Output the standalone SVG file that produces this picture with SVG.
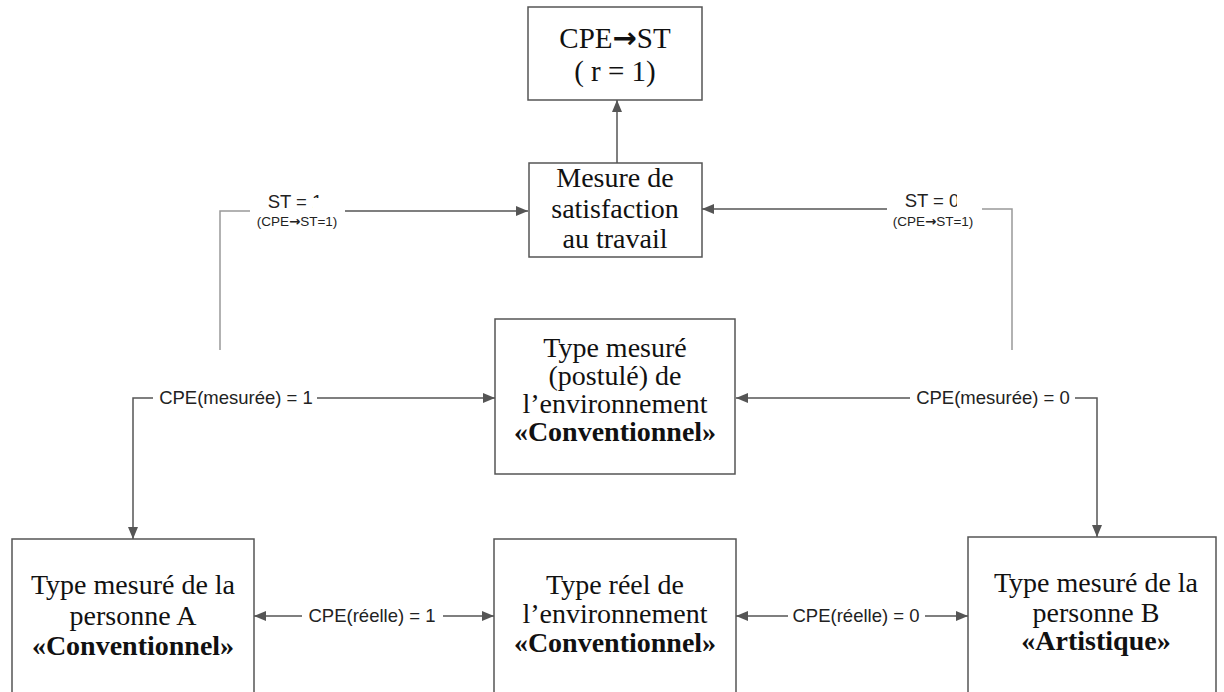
<svg xmlns="http://www.w3.org/2000/svg" width="1224" height="692" viewBox="0 0 1224 692">
<style>
.box{fill:#fff;stroke:#555;stroke-width:1.5}
.bt{font-family:"Liberation Serif","Times New Roman",serif;font-size:28px;fill:#111;text-anchor:middle}
.b{font-weight:bold}
.ar{font-family:"DejaVu Sans",sans-serif;font-weight:bold}
.ln{fill:none;stroke:#555;stroke-width:1.5}
.lf{fill:none;stroke:#999;stroke-width:1.5}
.lb{font-family:"Liberation Sans",Arial,sans-serif;font-size:18.5px;fill:#222;text-anchor:middle}
.sm{font-family:"Liberation Sans",Arial,sans-serif;font-size:13.5px;fill:#222;text-anchor:middle}
</style>
<defs>
<marker id="ah" viewBox="0 0 12 10" markerWidth="12" markerHeight="10" refX="12" refY="5" orient="auto-start-reverse" markerUnits="userSpaceOnUse">
<path d="M0,0 L12,5 L0,10 z" fill="#555"/>
</marker>
<clipPath id="c1"><rect x="240" y="180" width="73" height="40"/><rect x="313" y="180" width="20" height="18"/></clipPath>
<clipPath id="c0"><rect x="880" y="180" width="77" height="40"/></clipPath>
</defs>
<rect width="1224" height="692" fill="#fff"/>

<g id="connectors">
<path class="ln" d="M617,163 V100" marker-end="url(#ah)"/>
<path class="lf" d="M220,350 V211 H250"/>
<path class="ln" d="M345,211 H528" marker-end="url(#ah)"/>
<path class="lf" d="M1012,350 V209 H982"/>
<path class="ln" d="M887,209 H702" marker-end="url(#ah)"/>
<path class="ln" d="M153,398 H133 V539" marker-end="url(#ah)"/>
<path class="ln" d="M317,398 H495" marker-end="url(#ah)"/>
<path class="ln" d="M910,398 H736" marker-end="url(#ah)"/>
<path class="ln" d="M1075,398 H1097 V537" marker-end="url(#ah)"/>
<path class="ln" d="M302,616 H254" marker-end="url(#ah)"/>
<path class="ln" d="M443,616 H494" marker-end="url(#ah)"/>
<path class="ln" d="M788,616 H736" marker-end="url(#ah)"/>
<path class="ln" d="M925,616 H968" marker-end="url(#ah)"/>
<text class="lb" x="295" y="208" clip-path="url(#c1)">ST = 1</text>
<text class="sm" x="297" y="226">(CPE<tspan class="ar">→</tspan>ST=1)</text>
<text class="lb" x="932" y="207" clip-path="url(#c0)">ST = 0</text>
<text class="sm" x="933" y="226">(CPE<tspan class="ar">→</tspan>ST=1)</text>
<text class="lb" x="236" y="404">CPE(mesurée) = 1</text>
<text class="lb" x="993" y="404">CPE(mesurée) = 0</text>
<text class="lb" x="372" y="622">CPE(réelle) = 1</text>
<text class="lb" x="856" y="622">CPE(réelle) = 0</text>
</g>

<g id="top">
<rect class="box" x="528" y="7" width="174" height="93"/>
<text class="bt" x="615" y="48" style="font-size:29px">CPE<tspan class="ar">→</tspan>ST</text>
<text class="bt" x="615" y="81" style="font-size:29px">( r = 1)</text>
</g>

<g id="mesure">
<rect class="box" x="529" y="163" width="173" height="94"/>
<text class="bt" x="615" y="187">Mesure de</text>
<text class="bt" x="615" y="218">satisfaction</text>
<text class="bt" x="615" y="248">au travail</text>
</g>

<g id="postule">
<rect class="box" x="495" y="319" width="240" height="155"/>
<text class="bt" x="615" y="357">Type mesuré</text>
<text class="bt" x="615" y="385">(postulé) de</text>
<text class="bt" x="615" y="413">l’environnement</text>
<text class="bt b" x="615" y="441">«Conventionnel»</text>
</g>

<g id="personneA">
<rect class="box" x="12" y="539" width="242" height="170"/>
<text class="bt" x="133" y="594">Type mesuré de la</text>
<text class="bt" x="133" y="625">personne A</text>
<text class="bt b" x="133" y="655">«Conventionnel»</text>
</g>

<g id="reel">
<rect class="box" x="494" y="539" width="242" height="170"/>
<text class="bt" x="615" y="594">Type réel de</text>
<text class="bt" x="615" y="623">l’environnement</text>
<text class="bt b" x="615" y="652">«Conventionnel»</text>
</g>

<g id="personneB">
<rect class="box" x="968" y="537" width="248" height="170"/>
<text class="bt" x="1096" y="592">Type mesuré de la</text>
<text class="bt" x="1096" y="622">personne B</text>
<text class="bt b" x="1096" y="650">«Artistique»</text>
</g>
</svg>
